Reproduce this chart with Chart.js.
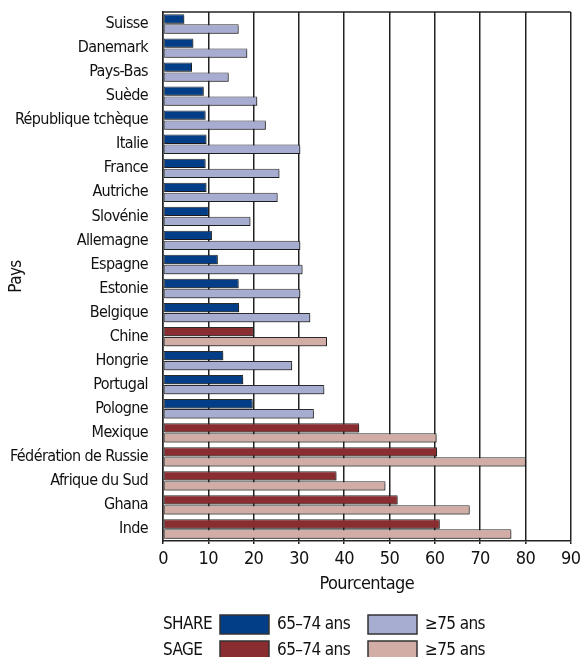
<!DOCTYPE html>
<html>
<head>
<meta charset="utf-8">
<script src="https://cdn.jsdelivr.net/npm/chart.js@4/dist/chart.umd.min.js"></script>
<style>
  html, body { margin: 0; padding: 0; background: #fff; }
  #wrap { width: 586px; height: 657px; }
</style>
</head>
<body>
<div id="wrap"><canvas id="c" width="586" height="657"></canvas></div>
<script>
const FONT = '"Liberation Sans Narrow", "DejaVu Sans Condensed", sans-serif'

const countries = ['Suisse', 'Danemark', 'Pays-Bas', 'Suède', 'République tchèque', 'Italie', 'France',
  'Autriche', 'Slovénie', 'Allemagne', 'Espagne', 'Estonie', 'Belgique', 'Chine', 'Hongrie', 'Portugal',
  'Pologne', 'Mexique', 'Fédération de Russie', 'Afrique du Sud', 'Ghana', 'Inde']
const survey = ['SHARE', 'SHARE', 'SHARE', 'SHARE', 'SHARE', 'SHARE', 'SHARE', 'SHARE', 'SHARE', 'SHARE',
  'SHARE', 'SHARE', 'SHARE', 'SAGE', 'SHARE', 'SHARE', 'SHARE', 'SAGE', 'SAGE', 'SAGE', 'SAGE', 'SAGE']
const age65to74 = [4.7, 6.7, 6.4, 9.0, 9.4, 9.6, 9.4, 9.6, 10.1, 10.8, 12.1, 16.7, 16.8, 20.0, 13.3, 17.7,
  19.8, 43.3, 60.5, 38.3, 51.8, 61.1]
const age75plus = [16.7, 18.6, 14.5, 20.8, 22.7, 30.3, 25.7, 25.3, 19.3, 30.3, 30.8, 30.3, 32.5, 36.2, 28.5,
  35.6, 33.3, 60.4, 80.1, 49.1, 67.7, 76.9]
const xTicks = [0, 10, 20, 30, 40, 50, 60, 70, 80, 90]
const surveys = ['SHARE', 'SAGE']
const ageLabels = ['65–74 ans', '≥75 ans']

const colors = {
  SHARE: ['#023e88', '#a7acd1'],
  SAGE: ['#8a2d30', '#d2ada6']
}

// squeeze the text a little, the original uses a condensed face
const narrowText = {
  id: 'narrowText',
  beforeDraw (chart) {
    chart.ctx.letterSpacing = '-0.6px'
  }
}

// gray drop shadow under the bars
const barShadow = {
  id: 'barShadow',
  beforeDatasetsDraw (chart) {
    const ctx = chart.ctx
    ctx.save()
    ctx.shadowColor = 'rgba(0,0,0,0.35)'
    ctx.shadowOffsetX = 1.5
    ctx.shadowOffsetY = 1.5
    ctx.shadowBlur = 0.5
  },
  afterDatasetsDraw (chart) {
    chart.ctx.restore()
  }
}

// top border of the plot box
const frame = {
  id: 'frame',
  afterDraw (chart) {
    const { ctx, chartArea: a } = chart
    ctx.save()
    ctx.strokeStyle = '#222'
    ctx.lineWidth = 1.5
    ctx.beginPath()
    ctx.moveTo(a.left, a.top)
    ctx.lineTo(a.right, a.top)
    ctx.stroke()
    ctx.restore()
  }
}

// two-row legend: survey name, then one box per age group
const legendGrid = {
  id: 'legendGrid',
  afterDraw (chart) {
    const ctx = chart.ctx
    ctx.save()
    ctx.font = '17px ' + FONT
    ctx.letterSpacing = '-0.6px'
    ctx.textBaseline = 'middle'
    ctx.fillStyle = '#111'
    surveys.forEach((s, r) => {
      const top = 615 + r * 26
      const mid = top + 10
      ctx.fillText(s, 163, mid)
      ageLabels.forEach((lab, k) => {
        const bx = 220 + k * 148
        ctx.fillStyle = colors[s][k]
        ctx.fillRect(bx, top, 49, 19)
        ctx.strokeStyle = '#333'
        ctx.lineWidth = 1.5
        ctx.strokeRect(bx, top, 49, 19)
        ctx.fillStyle = '#111'
        ctx.fillText(lab, bx + 57, mid)
      })
    })
    ctx.restore()
  }
}

const ds = (data, k) => ({
  label: ageLabels[k],
  data: data,
  backgroundColor: survey.map(s => colors[s][k]),
  borderColor: '#2b2b2b',
  borderWidth: 1,
  borderSkipped: false,
  categoryPercentage: 0.833,
  barPercentage: 0.93
})

new Chart(document.getElementById('c'), {
  type: 'bar',
  data: {
    labels: countries,
    datasets: [ds(age65to74, 0), ds(age75plus, 1)]
  },
  options: {
    indexAxis: 'y',
    responsive: false,
    animation: false,
    layout: { padding: { left: 0, top: 12, right: 10, bottom: 60 } },
    plugins: {
      legend: { display: false },
      tooltip: { enabled: false }
    },
    scales: {
      x: {
        min: 0,
        max: 90,
        afterBuildTicks: scale => { scale.ticks = xTicks.map(v => ({ value: v })) },
        afterFit: scale => { scale.height = 56 },
        grid: { color: '#222', lineWidth: 1.5, tickLength: 3 },
        border: { color: '#222', width: 1.5 },
        ticks: { font: { family: FONT, size: 18 }, color: '#111', padding: 5, maxRotation: 0 },
        title: { display: true, text: 'Pourcentage', font: { family: FONT, size: 18 }, color: '#111', padding: { top: 0, bottom: 2 } }
      },
      y: {
        afterFit: scale => {
          scale.width = 163
          scale.paddingTop = 0
          scale.paddingBottom = 0
        },
        grid: { display: false },
        border: { color: '#222', width: 1.5 },
        ticks: { font: { family: FONT, size: 16, lineHeight: 1 }, color: '#111', padding: 7, autoSkip: false },
        title: { display: true, text: 'Pays', font: { family: FONT, size: 17 }, color: '#111', padding: { top: 6, bottom: 0 } }
      }
    }
  },
  plugins: [narrowText, barShadow, frame, legendGrid]
})
</script>
</body>
</html>
